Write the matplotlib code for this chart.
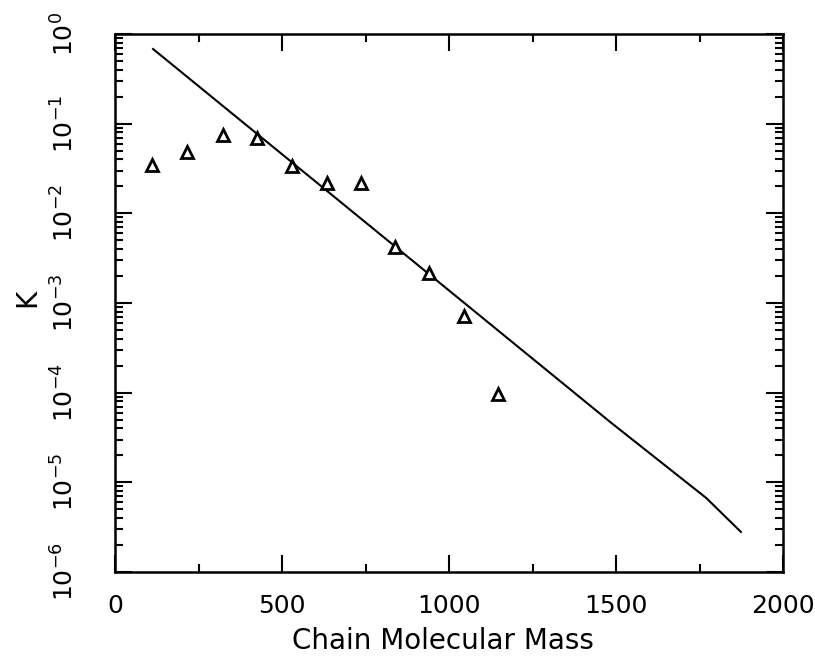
import numpy as np
import matplotlib
matplotlib.use("Agg")
import matplotlib.pyplot as plt
from matplotlib.ticker import (FixedLocator, LogLocator, LogFormatterMathtext,
                               MultipleLocator, NullFormatter)

# measured points (triangles)
mass = [110, 215, 322, 425, 530, 634, 736, 838, 940, 1046, 1146]
k_obs = [0.0344, 0.048, 0.074, 0.069, 0.0335, 0.0216, 0.0217, 0.00417, 0.00214, 7.2e-4, 9.7e-5]

# fitted curve
fit_mass = [114, 1486, 1770, 1874]
fit_k = [0.68, 4.6e-5, 6.7e-6, 2.8e-6]

y_decades = [1e-6, 1e-5, 1e-4, 1e-3, 1e-2, 1e-1, 1e0]

plt.rcParams['font.family'] = ['DejaVu Sans']
plt.rcParams['mathtext.fontset'] = 'dejavusans'

W, H = 815, 662
fig = plt.figure(figsize=(W / 100, H / 100), dpi=100)
left, right, top, bottom = 115, 783, 34, 572
ax = fig.add_axes([left / W, 1 - bottom / H, (right - left) / W, (bottom - top) / H])

ax.plot(fit_mass, fit_k, color='black', lw=1.5)
ax.plot(mass, k_obs, linestyle='none', marker='^', markersize=9,
        markerfacecolor='white', markeredgecolor='black', markeredgewidth=2)

ax.set_yscale('log')
ax.set_xlim(0, 2000)
ax.set_ylim(1e-6, 1)

ax.xaxis.set_major_locator(MultipleLocator(500))
ax.xaxis.set_minor_locator(MultipleLocator(250))
ax.yaxis.set_major_locator(FixedLocator(y_decades))
ax.yaxis.set_minor_locator(LogLocator(base=10, subs=np.arange(2, 10)))
ax.yaxis.set_major_formatter(LogFormatterMathtext())
ax.yaxis.set_minor_formatter(NullFormatter())

ax.tick_params(which='both', direction='in', top=True, right=True, width=1.5)
ax.tick_params(which='major', length=12)
ax.tick_params(which='minor', length=6)
ax.tick_params(axis='x', which='major', labelsize=18, pad=16)
ax.tick_params(axis='y', which='major', labelsize=18, pad=26)
for lab in ax.get_yticklabels():
    lab.set_rotation(90)
    lab.set_va('center')

for sp in ax.spines.values():
    sp.set_linewidth(1.8)

fig.text(27 / W, 1 - 298 / H, 'K', rotation=90, ha='center', va='center', fontsize=20)
fig.text(443 / W, 1 - 641 / H, 'Chain Molecular Mass', ha='center', va='center', fontsize=20)

fig.savefig('out.png', dpi=100)
